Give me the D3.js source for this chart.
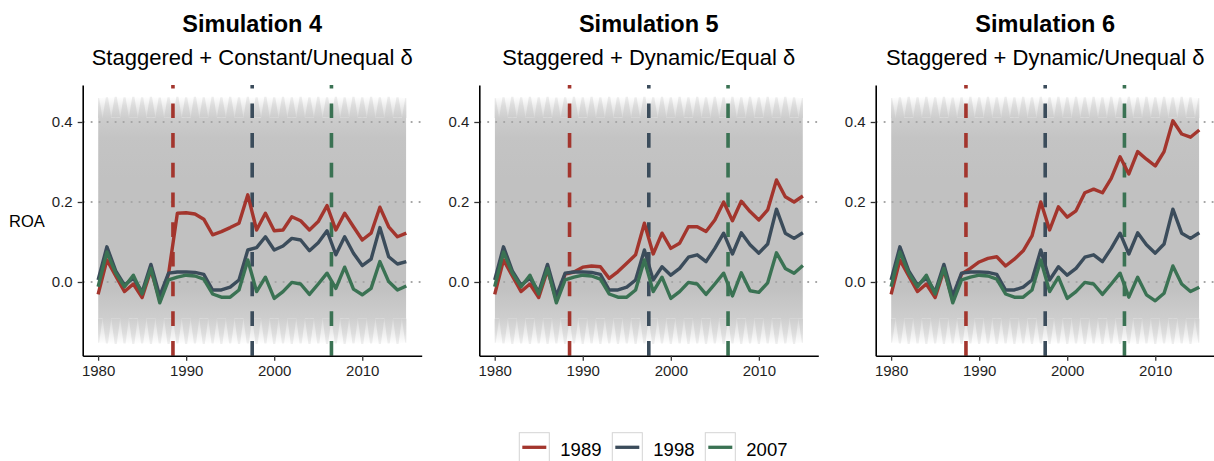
<!DOCTYPE html>
<html>
<head>
<meta charset="utf-8">
<script src="https://cdn.jsdelivr.net/npm/d3@7"></script>
<style>
  body { margin: 0; background: #fff; }
  svg { display: block; font-family: "Liberation Sans", Arial, Helvetica, sans-serif; }
</style>
</head>
<body>
<svg></svg>
<script>
// ---- data ----
const years = d3.range(1980, 2016);

const panelTitles = ["Simulation 4", "Simulation 5", "Simulation 6"];
const panelSubtitles = ["Staggered + Constant/Unequal δ", "Staggered + Dynamic/Equal δ", "Staggered + Dynamic/Unequal δ"];

const cohorts = ["1989", "1998", "2007"];
const cohortColors = ["#a3352d", "#3b4c5b", "#3a7253"];
const treatLines = [1988.5, 1997.5, 2006.5];

const yTicks = [0, 0.2, 0.4];
const xTicks = [1980, 1990, 2000, 2010];

// simulation 4
const sim4_1989 = [-0.031, 0.055, 0.015, -0.024, -0.005, -0.039, 0.030, -0.045, 0.020,
  0.172, 0.173, 0.170, 0.157, 0.118, 0.126, 0.136, 0.147, 0.218, 0.130, 0.172, 0.128, 0.130,
  0.163, 0.153, 0.130, 0.151, 0.191, 0.130, 0.172, 0.138, 0.105, 0.122, 0.187, 0.138, 0.113, 0.122];
const sim4_1998 = [0.005, 0.088, 0.028, -0.008, 0.010, -0.025, 0.044, -0.035, 0.022,
  0.025, 0.025, 0.024, 0.019, -0.020, -0.020, -0.013, 0.005, 0.080, 0.086, 0.113, 0.080, 0.090,
  0.109, 0.105, 0.078, 0.098, 0.128, 0.068, 0.113, 0.072, 0.041, 0.057, 0.136, 0.063, 0.045, 0.051];
const sim4_2007 = [-0.012, 0.075, 0.022, -0.012, 0.017, -0.030, 0.034, -0.052, 0.005,
  0.012, 0.017, 0.015, 0.007, -0.030, -0.038, -0.038, -0.020, 0.055, -0.024, 0.012, -0.041, -0.024,
  -0.001, -0.005, -0.031, -0.005, 0.022, -0.016, 0.037, -0.018, -0.032, -0.016, 0.051, 0.001, -0.020, -0.010];

// simulation 5
const sim5_1989 = [-0.031, 0.055, 0.015, -0.024, -0.005, -0.039, 0.030, -0.045, 0.020,
  0.025, 0.037, 0.040, 0.038, 0.009, 0.026, 0.047, 0.068, 0.147, 0.070, 0.122, 0.084, 0.097,
  0.138, 0.138, 0.126, 0.155, 0.200, 0.153, 0.202, 0.176, 0.155, 0.180, 0.255, 0.213, 0.200, 0.215];
const sim5_1998 = [0.005, 0.088, 0.028, -0.008, 0.010, -0.025, 0.044, -0.035, 0.022,
  0.025, 0.025, 0.024, 0.019, -0.020, -0.020, -0.013, 0.005, 0.080, 0.005, 0.038, 0.017, 0.034,
  0.062, 0.068, 0.051, 0.084, 0.122, 0.070, 0.123, 0.093, 0.072, 0.095, 0.182, 0.122, 0.109, 0.123];
const sim5_2007 = [-0.012, 0.075, 0.022, -0.012, 0.017, -0.030, 0.034, -0.052, 0.005,
  0.012, 0.017, 0.015, 0.007, -0.030, -0.038, -0.038, -0.020, 0.055, -0.024, 0.012, -0.041, -0.024,
  -0.001, -0.005, -0.031, -0.005, 0.022, -0.035, 0.023, -0.022, -0.026, -0.002, 0.073, 0.034, 0.022, 0.041];

// simulation 6
const sim6_1989 = [-0.031, 0.055, 0.015, -0.024, -0.005, -0.039, 0.030, -0.045, 0.020,
  0.034, 0.050, 0.059, 0.063, 0.040, 0.057, 0.078, 0.115, 0.200, 0.130, 0.188, 0.162, 0.178,
  0.223, 0.232, 0.223, 0.259, 0.313, 0.270, 0.326, 0.307, 0.290, 0.326, 0.403, 0.370, 0.362, 0.380];
const sim6_1998 = [0.005, 0.088, 0.028, -0.008, 0.010, -0.025, 0.044, -0.035, 0.022,
  0.025, 0.025, 0.024, 0.019, -0.020, -0.020, -0.013, 0.005, 0.080, 0.005, 0.038, 0.017, 0.034,
  0.062, 0.068, 0.051, 0.084, 0.122, 0.070, 0.123, 0.093, 0.072, 0.095, 0.182, 0.122, 0.109, 0.123];
const sim6_2007 = [-0.012, 0.075, 0.022, -0.012, 0.017, -0.030, 0.034, -0.052, 0.005,
  0.012, 0.017, 0.015, 0.007, -0.030, -0.038, -0.038, -0.020, 0.055, -0.024, 0.012, -0.041, -0.024,
  -0.001, -0.005, -0.031, -0.005, 0.022, -0.038, 0.012, -0.032, -0.047, -0.028, 0.040, -0.005, -0.024, -0.013];

// envelope of the simulated firm paths (grey cloud), same in every panel
const cloudPeakHigh = [0.460, 0.462, 0.463, 0.462, 0.463, 0.462, 0.463, 0.461, 0.462, 0.463, 0.462, 0.463,
  0.462, 0.463, 0.462, 0.463, 0.462, 0.463, 0.462, 0.463, 0.462, 0.463, 0.462, 0.463,
  0.462, 0.463, 0.462, 0.463, 0.462, 0.463, 0.462, 0.463, 0.462, 0.463, 0.462, 0.460];
const cloudCoreHigh = [0.410, 0.410, 0.412, 0.410, 0.411, 0.410, 0.412, 0.410, 0.411, 0.410, 0.412, 0.410,
  0.411, 0.410, 0.412, 0.410, 0.411, 0.410, 0.412, 0.410, 0.411, 0.410, 0.412, 0.410,
  0.411, 0.410, 0.412, 0.410, 0.411, 0.410, 0.412, 0.410, 0.411, 0.410, 0.412, 0.410];
const cloudCoreLow = [-0.092, -0.090, -0.091, -0.090, -0.092, -0.090, -0.091, -0.090, -0.092, -0.090, -0.091, -0.090,
  -0.092, -0.090, -0.091, -0.090, -0.092, -0.090, -0.091, -0.090, -0.092, -0.090, -0.091, -0.090,
  -0.092, -0.090, -0.091, -0.090, -0.092, -0.090, -0.091, -0.090, -0.092, -0.090, -0.091, -0.092];
const cloudPeakLow = [-0.152, -0.154, -0.155, -0.154, -0.155, -0.154, -0.155, -0.154, -0.155, -0.154, -0.155, -0.154,
  -0.155, -0.154, -0.155, -0.154, -0.155, -0.154, -0.155, -0.154, -0.155, -0.154, -0.155, -0.154,
  -0.155, -0.154, -0.155, -0.154, -0.155, -0.154, -0.155, -0.154, -0.155, -0.154, -0.155, -0.152];

const panelSeries = [
  [sim4_1989, sim4_1998, sim4_2007],
  [sim5_1989, sim5_1998, sim5_2007],
  [sim6_1989, sim6_1998, sim6_2007]
];

// ---- layout ----
let width = 1214;
let height = 461;
let panelLeft = [82.7, 479.3, 875.7];
let plotWidth = 339;
let plotTop = 85;
let plotBottom = 355.7;

let svg = d3.select('svg')
  .attr('width', width)
  .attr('height', height);

const defs = svg.append('defs');

const addGradient = (id, flip, stops) => {
  let grad = defs.append('linearGradient')
    .attr('id', id)
    .attr('x1', 0).attr('x2', 0)
    .attr('y1', flip ? 1 : 0).attr('y2', flip ? 0 : 1);
  stops.forEach((s) => {
    grad.append('stop').attr('offset', s[0]).attr('stop-color', s[1]);
  });
};

addGradient('coreGrad', false, [['0%', '#cdcdcd'], ['10%', '#c4c4c4'], ['30%', '#c1c1c1'], ['85%', '#c1c1c1'], ['100%', '#cecece']]);
addGradient('spikeUp', true, [['0%', '#cdcdcd'], ['60%', '#dcdcdc'], ['100%', '#eeeeee']]);
addGradient('spikeDown', false, [['0%', '#cecece'], ['60%', '#dddddd'], ['100%', '#efefef']]);
addGradient('fringeUp', true, [['0%', '#d6d6d6'], ['100%', '#ffffff']]);
addGradient('fringeDown', false, [['0%', '#d8d8d8'], ['100%', '#ffffff']]);

const yScale = d3.scaleLinear()
  .domain([-0.1843, 0.4925])
  .range([plotBottom, plotTop]);

const drawPanel = (p) => {
  let left = panelLeft[p];
  let xScale = d3.scaleLinear()
    .domain([1978.25, 2016.75])
    .range([left, left + plotWidth]);

  let g = svg.append('g').attr('class', 'panel');

  // titles
  g.append('text')
    .attr('x', left + plotWidth / 2)
    .attr('y', 32)
    .attr('text-anchor', 'middle')
    .attr('font-size', 23.5)
    .attr('font-weight', 'bold')
    .attr('fill', '#000')
    .text(panelTitles[p]);

  g.append('text')
    .attr('x', left + plotWidth / 2)
    .attr('y', 65)
    .attr('text-anchor', 'middle')
    .attr('font-size', 22)
    .attr('fill', '#000')
    .text(panelSubtitles[p]);

  // grey cloud of simulated paths
  defs.append('clipPath')
    .attr('id', 'clip' + p)
    .append('rect')
    .attr('x', xScale(1980))
    .attr('y', plotTop)
    .attr('width', xScale(2015) - xScale(1980))
    .attr('height', plotBottom - plotTop);

  let cloud = g.append('g').attr('clip-path', 'url(#clip' + p + ')');

  let cloudData = years.map((yr, i) => ({
    year: yr, hi: cloudCoreHigh[i], lo: cloudCoreLow[i], peakHi: cloudPeakHigh[i], peakLo: cloudPeakLow[i]
  }));

  // soft fringe behind the spikes
  cloud.append('path')
    .datum(cloudData)
    .attr('d', d3.area()
      .x((d) => xScale(d.year))
      .y0((d) => yScale(d.hi))
      .y1((d) => yScale(d.peakHi)))
    .attr('fill', 'url(#fringeUp)');

  cloud.append('path')
    .datum(cloudData)
    .attr('d', d3.area()
      .x((d) => xScale(d.year))
      .y0((d) => yScale(d.lo))
      .y1((d) => yScale(d.peakLo)))
    .attr('fill', 'url(#fringeDown)');

  cloud.append('path')
    .datum(cloudData)
    .attr('d', d3.area()
      .x((d) => xScale(d.year))
      .y0((d) => yScale(d.lo))
      .y1((d) => yScale(d.hi)))
    .attr('fill', 'url(#coreGrad)');

  const spikeLine = d3.line()
    .x((d) => xScale(d[0]))
    .y((d) => yScale(d[1]));

  cloud.selectAll('path.spike-up')
    .data(cloudData)
    .enter()
    .append('path')
    .attr('class', 'spike-up')
    .attr('d', (d) => spikeLine([[d.year - 0.5, d.hi], [d.year - 0.12, d.peakHi], [d.year + 0.12, d.peakHi], [d.year + 0.5, d.hi]]) + 'Z')
    .attr('fill', 'url(#spikeUp)');

  cloud.selectAll('path.spike-down')
    .data(cloudData)
    .enter()
    .append('path')
    .attr('class', 'spike-down')
    .attr('d', (d) => spikeLine([[d.year - 0.5, d.lo], [d.year - 0.12, d.peakLo], [d.year + 0.12, d.peakLo], [d.year + 0.5, d.lo]]) + 'Z')
    .attr('fill', 'url(#spikeDown)');

  // dotted grid
  g.selectAll('line.grid')
    .data(yTicks)
    .enter()
    .append('line')
    .attr('class', 'grid')
    .attr('x1', left)
    .attr('x2', left + plotWidth)
    .attr('y1', (d) => yScale(d))
    .attr('y2', (d) => yScale(d))
    .attr('stroke', '#a6a6a6')
    .attr('stroke-width', 1.8)
    .attr('stroke-dasharray', '1.8,6.2');

  // treatment years
  g.selectAll('line.treat')
    .data(treatLines)
    .enter()
    .append('line')
    .attr('class', 'treat')
    .attr('x1', (d) => xScale(d))
    .attr('x2', (d) => xScale(d))
    .attr('y1', plotBottom)
    .attr('y2', plotTop)
    .attr('stroke', (d, i) => cohortColors[i])
    .attr('stroke-width', 3.6)
    .attr('stroke-dasharray', '14.7,15');

  // cohort averages
  const line = d3.line()
    .x((d, i) => xScale(years[i]))
    .y((d) => yScale(d));

  g.selectAll('path.cohort')
    .data(panelSeries[p])
    .enter()
    .append('path')
    .attr('class', 'cohort')
    .attr('d', line)
    .attr('fill', 'none')
    .attr('stroke', (d, i) => cohortColors[i])
    .attr('stroke-width', 3.4)
    .attr('stroke-linejoin', 'round');

  // axes
  let xAxis = d3.axisBottom(xScale)
    .tickValues(xTicks)
    .tickFormat(d3.format('d'))
    .tickSize(5)
    .tickSizeOuter(0)
    .tickPadding(5);

  let yAxis = d3.axisLeft(yScale)
    .tickValues(yTicks)
    .tickFormat(d3.format('.1f'))
    .tickSize(5)
    .tickSizeOuter(0)
    .tickPadding(5);

  let xg = g.append('g')
    .attr('transform', 'translate(0, ' + plotBottom + ')')
    .call(xAxis);

  let yg = g.append('g')
    .attr('transform', 'translate(' + left + ', 0)')
    .call(yAxis);

  [xg, yg].forEach((ax) => {
    ax.select('.domain').attr('stroke', '#000').attr('stroke-width', 1.6);
    ax.selectAll('.tick line').attr('stroke', '#333').attr('stroke-width', 1.3);
    ax.selectAll('.tick text')
      .attr('font-size', 15)
      .attr('fill', '#1f1f1f')
      .attr('font-family', '"Liberation Sans", Arial, sans-serif');
  });
};

[0, 1, 2].forEach(drawPanel);

// y label
svg.append('text')
  .attr('x', 9)
  .attr('y', 226.5)
  .attr('font-size', 16.5)
  .attr('fill', '#000')
  .text('ROA');

// legend
let legendBoxX = [519.3, 612.3, 705.3];
let legend = svg.append('g').attr('class', 'legend');

let items = legend.selectAll('g')
  .data(cohorts)
  .enter()
  .append('g')
  .attr('transform', (d, i) => 'translate(' + legendBoxX[i] + ', 432.7)');

items.append('rect')
  .attr('width', 30)
  .attr('height', 30)
  .attr('fill', '#fff')
  .attr('stroke', '#d4d4d4')
  .attr('stroke-width', 1);

items.append('line')
  .attr('x1', 3)
  .attr('x2', 27)
  .attr('y1', 14.6)
  .attr('y2', 14.6)
  .attr('stroke', (d, i) => cohortColors[i])
  .attr('stroke-width', 3.3);

items.append('text')
  .attr('x', 41)
  .attr('y', 23)
  .attr('font-size', 18.5)
  .attr('fill', '#000')
  .text((d) => d);
</script>
</body>
</html>
